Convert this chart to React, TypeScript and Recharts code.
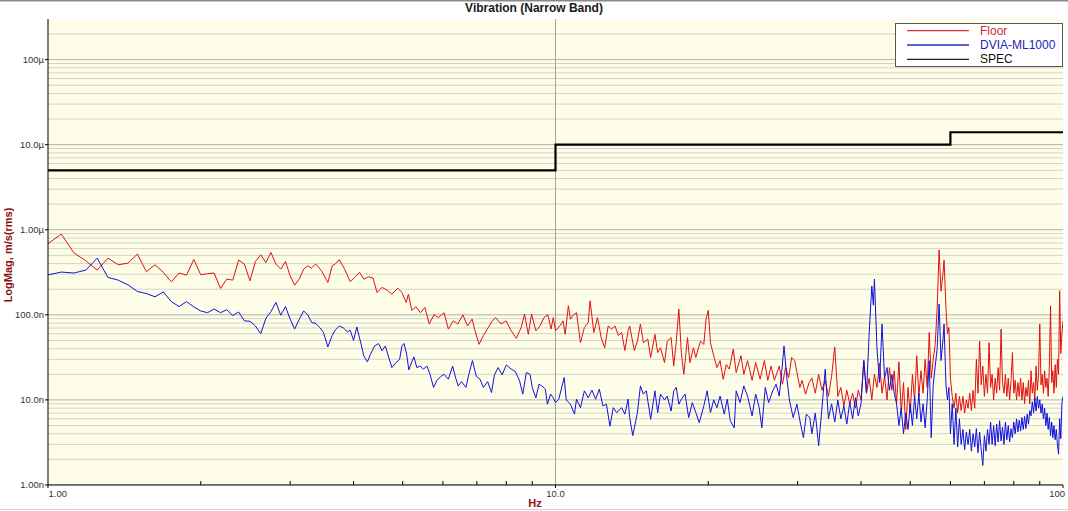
import React from 'react';
import { LineChart, Line, XAxis, YAxis, CartesianGrid, ReferenceLine, Legend } from 'recharts';

// Readings: [frequency Hz, magnitude in nm/s (rms)]
const floorReadings: [number, number][] = [
  [1, 684], [1.0625, 890], [1.125, 532], [1.1875, 432], [1.25, 336], [1.3125, 464], [1.375, 388], [1.4375, 405],
  [1.5, 518], [1.5625, 321], [1.625, 388], [1.6875, 316], [1.75, 244], [1.8125, 310], [1.875, 293], [1.9375, 448],
  [2, 295], [2.0625, 305], [2.125, 310], [2.1875, 204], [2.25, 263], [2.3125, 256], [2.375, 441], [2.4375, 395],
  [2.5, 251], [2.5625, 424], [2.625, 508], [2.6875, 412], [2.75, 541], [2.8125, 395], [2.875, 345], [2.9375, 424],
  [3, 287], [3.0625, 223], [3.125, 262], [3.19, 345], [3.25, 377], [3.3, 354], [3.37, 395], [3.46, 329],
  [3.56, 240], [3.63, 377], [3.68, 395], [3.75, 444], [3.84, 345], [3.94, 246], [4.02, 275], [4.11, 316],
  [4.19, 263], [4.28, 280], [4.37, 271], [4.45, 183], [4.55, 210], [4.66, 195], [4.76, 175], [4.89, 206],
  [4.98, 183], [5.08, 140], [5.13, 175], [5.21, 113], [5.31, 124], [5.42, 106], [5.53, 122], [5.64, 78],
  [5.76, 100], [5.88, 93], [6.03, 106], [6.15, 68], [6.29, 85], [6.42, 78], [6.57, 100], [6.71, 74],
  [6.85, 89], [6.94, 65], [7.07, 45], [7.21, 57], [7.34, 68], [7.51, 85], [7.62, 93], [7.81, 78],
  [7.99, 85], [8.18, 65], [8.37, 53], [8.56, 71], [8.69, 102], [8.84, 59], [8.97, 102], [9.15, 65],
  [9.32, 74], [9.49, 93], [9.66, 100], [9.8, 68], [9.9, 93], [10, 65], [10.2, 74], [10.35, 85],
  [10.45, 59], [10.6, 128], [10.7, 89], [10.85, 100], [11, 106], [11.2, 47], [11.4, 71], [11.6, 81],
  [11.7, 146], [11.9, 62], [12.1, 93], [12.3, 54], [12.5, 41], [12.7, 74], [12.9, 68], [13.1, 74],
  [13.3, 57], [13.5, 62], [13.7, 38], [13.9, 65], [14, 74], [14.3, 38], [14.5, 49], [14.7, 78],
  [14.9, 47], [15.2, 52], [15.4, 31.5], [15.7, 59], [15.9, 36], [16.1, 41], [16.4, 27.5], [16.6, 49],
  [16.9, 54], [17.1, 25], [17.3, 49], [17.5, 117], [17.7, 36], [17.9, 20], [18.2, 54], [18.4, 27.5],
  [18.7, 41], [18.9, 31.5], [19.3, 49], [19.6, 45], [19.8, 89], [20, 113], [20.2, 47], [20.5, 33],
  [20.8, 24], [21.1, 29], [21.4, 17.5], [21.7, 26], [22, 23], [22.4, 39.5], [22.7, 21], [23.2, 33],
  [23.5, 20], [23.9, 29], [24.4, 17], [24.8, 27.5], [25.3, 17.5], [25.8, 29], [26.2, 17], [26.6, 25],
  [27, 17], [27.6, 25], [28, 15.3], [28.4, 24], [28.8, 18.3], [29.2, 31.5], [29.6, 29], [30.3, 14],
  [30.6, 17], [31.1, 11.7], [31.6, 16], [32, 18], [32.5, 12], [33, 20], [33.5, 13], [34, 17],
  [34.5, 11], [35, 19], [35.5, 42], [36, 11], [36.5, 14], [37, 8.5], [37.5, 13], [38, 9],
  [38.5, 12], [39, 8], [39.5, 13], [40, 10], [40.5, 29], [41, 12], [41.5, 18], [42, 10],
  [42.5, 20], [43, 14], [43.5, 27], [44, 12], [44.5, 19], [45, 10], [45.5, 24], [46, 13],
  [46.5, 22], [47, 9], [47.5, 28], [48, 7], [48.5, 16], [49, 4.5], [49.5, 14], [50, 7],
  [50.5, 20], [51, 10], [51.5, 33], [52, 11], [52.5, 22], [53, 12], [53.5, 30], [54, 14],
  [54.5, 62], [55, 18], [55.5, 30], [56, 45], [56.5, 120], [57, 580], [57.5, 190], [58, 300],
  [58.3, 440], [58.8, 120], [59.2, 60], [59.6, 71], [60, 18], [60.5, 11], [61, 8], [61.5, 12],
  [62, 7], [62.5, 11], [63, 7.5], [63.5, 11], [64, 7], [64.5, 10], [65, 8], [65.5, 12],
  [66, 7.5], [66.5, 13], [67, 8], [67.5, 30], [68, 12], [68.5, 49], [69, 15], [69.5, 25],
  [70, 11], [70.5, 20], [71, 12], [71.5, 47], [72, 14], [72.5, 20], [73, 10], [73.5, 18],
  [74, 12], [74.5, 24], [75, 13], [75.5, 68], [76, 16], [76.5, 12], [77, 20], [77.5, 11],
  [78, 18], [78.5, 10], [79, 17], [79.5, 36], [80, 12], [80.5, 17], [81, 10], [81.5, 16],
  [82, 11], [82.5, 18], [83, 10], [83.5, 16], [84, 9], [84.5, 14], [85, 11], [85.5, 17],
  [86, 9], [86.5, 22], [87, 12], [87.5, 16], [88, 10], [88.5, 25], [89, 13], [89.5, 20],
  [90, 78], [90.5, 15], [91, 20], [91.5, 12], [92, 22], [92.5, 14], [93, 18], [93.5, 11],
  [94, 25], [94.5, 128], [95, 16], [95.5, 22], [96, 12], [96.5, 26], [97, 14], [97.5, 30],
  [98, 20], [98.5, 192], [99, 35], [99.5, 60], [100, 85],
];

const dviaReadings: [number, number][] = [
  [1, 295], [1.0625, 318], [1.125, 310], [1.1875, 336], [1.25, 464], [1.3125, 275], [1.375, 256], [1.4375, 225],
  [1.5, 188], [1.5625, 178], [1.625, 163], [1.6875, 186], [1.75, 143], [1.8125, 125], [1.875, 143], [1.9375, 124],
  [2, 111], [2.0625, 106], [2.125, 117], [2.1875, 106], [2.25, 115], [2.3125, 98], [2.375, 108], [2.4375, 85],
  [2.5, 84], [2.5625, 74], [2.625, 60], [2.6875, 91], [2.75, 109], [2.8125, 140], [2.875, 99], [2.9375, 125],
  [3, 89], [3.0625, 68], [3.125, 88], [3.19, 111], [3.25, 100], [3.31, 81], [3.37, 79], [3.44, 70],
  [3.49, 62], [3.56, 42], [3.63, 57], [3.68, 66], [3.75, 74], [3.82, 70], [3.89, 63], [3.94, 66],
  [4, 50], [4.06, 72], [4.14, 45], [4.19, 33], [4.26, 28], [4.32, 34.5], [4.4, 43], [4.48, 46],
  [4.55, 38], [4.62, 43], [4.69, 32], [4.76, 24], [4.85, 27.5], [4.93, 30], [4.98, 43], [5.03, 46],
  [5.09, 34.5], [5.14, 22.5], [5.21, 28], [5.26, 32], [5.33, 24], [5.41, 25], [5.49, 23], [5.58, 25],
  [5.66, 20], [5.75, 14], [5.84, 17], [5.95, 19], [6.03, 20], [6.15, 17.5], [6.27, 25], [6.36, 18],
  [6.43, 14.6], [6.53, 16.4], [6.66, 14], [6.75, 20], [6.86, 29], [6.98, 19], [7.1, 17.5], [7.21, 14],
  [7.35, 16.4], [7.48, 12.2], [7.58, 19.7], [7.71, 24], [7.85, 19.7], [8, 25.8], [8.18, 23], [8.33, 21.6],
  [8.49, 17], [8.62, 11.7], [8.76, 21], [8.91, 20], [9, 14], [9.15, 10.6], [9.28, 15.3], [9.4, 14.6],
  [9.55, 13.4], [9.64, 8.9], [9.78, 11.7], [9.9, 10.6], [10, 9.3], [10.15, 10.2], [10.4, 18.3], [10.5, 10],
  [10.7, 8.9], [10.9, 6.8], [11, 10.2], [11.2, 8.1], [11.4, 12.8], [11.6, 10.6], [11.8, 13], [12, 10.2],
  [12.2, 13.4], [12.4, 8.5], [12.6, 8.9], [12.8, 4.9], [13, 8.1], [13.2, 7.1], [13.5, 8.1], [13.7, 6.8],
  [13.9, 10.2], [14, 6.2], [14.2, 3.8], [14.5, 7.1], [14.7, 14.6], [14.9, 11.7], [15.1, 12.8], [15.4, 5.9],
  [15.7, 12.8], [15.9, 7.1], [16.1, 11.7], [16.4, 10], [16.6, 11.1], [16.9, 7.4], [17.1, 12.8], [17.3, 14],
  [17.5, 8.9], [17.7, 10.2], [18, 11.7], [18.3, 6.2], [18.6, 9.3], [18.9, 7.1], [19.2, 5.4], [19.6, 8.5],
  [19.9, 12.8], [20.2, 7.1], [20.5, 10], [20.8, 8.1], [21.1, 11.1], [21.5, 6.8], [21.8, 10.2], [22.1, 5.7],
  [22.5, 4.7], [22.7, 12.8], [23.1, 9.3], [23.5, 14.6], [23.9, 11.1], [24.4, 6.5], [24.8, 11.7], [25.2, 8.1],
  [25.5, 4.7], [25.9, 14], [26.3, 9.3], [26.8, 12.8], [27.2, 15.3], [27.6, 11.1], [27.9, 21], [28.2, 43],
  [28.6, 17], [28.9, 10], [29.4, 6.2], [29.9, 8.9], [30.4, 5.2], [30.8, 3.6], [31.2, 6.8], [31.7, 6.2],
  [32, 4], [32.5, 7], [33, 2.9], [33.5, 8], [34, 23], [34.5, 6], [35, 9], [35.5, 5.5],
  [36, 10], [36.5, 6], [37, 8.5], [37.5, 5.2], [38, 9.5], [38.5, 6], [39, 10.6], [39.5, 6.5],
  [40, 9], [40.5, 29], [41, 12], [41.5, 60], [42, 218], [42.3, 130], [42.5, 263], [43, 40],
  [43.5, 16], [44, 78], [44.5, 18], [45, 24], [45.5, 13], [46, 20], [46.5, 12], [47, 9],
  [47.5, 5], [48, 8], [48.5, 4], [49, 7], [49.5, 4.5], [50, 9], [50.5, 5], [51, 11],
  [51.5, 6], [52, 12], [52.5, 5.5], [53, 9], [53.5, 4.7], [54, 10], [54.5, 29], [55, 3.6],
  [55.5, 15], [56, 25], [56.5, 40], [57, 134], [57.5, 29], [58, 50], [58.3, 78], [58.8, 15],
  [59.2, 10], [59.6, 14], [60, 4], [60.5, 9], [61, 3], [61.5, 8], [62, 2.8], [62.5, 6],
  [63, 3], [63.5, 4.5], [64, 2.6], [64.5, 4.2], [65, 3], [65.5, 4.5], [66, 2.5], [66.5, 4],
  [67, 2.8], [67.5, 4.6], [68, 2.4], [68.5, 4.2], [69, 2.6], [69.5, 1.7], [70, 3.8], [70.5, 2.5],
  [71, 4.5], [71.5, 3], [72, 5.5], [72.5, 3], [73, 5], [73.5, 2.9], [74, 5.2], [74.5, 3.2],
  [75, 5.7], [75.5, 3.3], [76, 4.8], [76.5, 3], [77, 5.5], [77.5, 3.4], [78, 5], [78.5, 3.2],
  [79, 4.6], [79.5, 3.6], [80, 5.5], [80.5, 4], [81, 6], [81.5, 4.2], [82, 5.8], [82.5, 4.3],
  [83, 6.2], [83.5, 4.5], [84, 6.4], [84.5, 4.6], [85, 6.8], [85.5, 5.2], [86, 7.5], [86.5, 6.5],
  [87, 9.5], [87.5, 7], [88, 10.5], [88.5, 7.4], [89, 11], [89.5, 8], [90, 10], [90.5, 7],
  [91, 9], [91.5, 6], [92, 8], [92.5, 5], [93, 7], [93.5, 4.5], [94, 6.2], [94.5, 3.8],
  [95, 5.5], [95.5, 3.6], [96, 5], [96.5, 3.4], [97, 4.5], [97.5, 3], [98, 2.3], [98.5, 6],
  [99, 3.5], [99.5, 9], [100, 11],
];

const specReadings: [number, number][] = [
  [1, 5000], [10, 10000], [60, 14000], [100, 14000],
];

const yMajorTicks = [1, 10, 100, 1000, 10000, 100000];
const yTickLabels = ['1.00n', '10.0n', '100.0n', '1.00\u00b5', '10.0\u00b5', '100\u00b5'];
const xMajorTicks = [1, 10, 100];
const xTickLabels = ['1.00', '10.0', '100'];
const minorSteps = [2, 3, 4, 5, 6, 7, 8, 9];
const xDecades = [1, 10];
const Y_MAX = 300000;

const seriesInfo = [
  { name: 'Floor', line: '#d83030', text: '#d02a2a' },
  { name: 'DVIA-ML1000', line: '#2030c8', text: '#2525b5' },
  { name: 'SPEC', line: '#222222', text: '#111111' },
];

const toRows = (r: [number, number][]) => r.map(([f, v]) => ({ f, v }));
const floorData = toRows(floorReadings);
const dviaData = toRows(dviaReadings);
const specData = toRows(specReadings);

const yMinorGrid = yMajorTicks.flatMap((d) => minorSteps.map((m) => d * m)).filter((v) => v < Y_MAX);
const xMinorTicks = xDecades.flatMap((d) => minorSteps.map((m) => d * m));
const xAllTicks = [...xMajorTicks, ...xMinorTicks].sort((a, b) => a - b);

const FONT = '"Liberation Sans", Arial, Helvetica, sans-serif';

const XTick = (props: any) => {
  const { x, y, payload } = props;
  const v = payload.value;
  const idx = xMajorTicks.indexOf(v);
  if (idx < 0) {
    return <line x1={x} x2={x} y1={y} y2={y - 4} stroke="#000" strokeWidth={1} />;
  }
  const last = xMajorTicks.length - 1;
  const anchor = idx === 0 ? 'start' : idx === last ? 'end' : 'middle';
  const dx = idx === 0 ? 0.5 : idx === last ? 2 : 0;
  return (
    <g>
      <line x1={x} x2={x} y1={y} y2={y + 3} stroke="#000" strokeWidth={1} />
      <text x={x + dx} y={y + 12} textAnchor={anchor} fontSize={9.5} fill="#333" fontFamily={FONT}>
        {xTickLabels[idx]}
      </text>
    </g>
  );
};

const LegendBox = () => (
  <svg width={168} height={45} style={{ display: 'block' }}>
    <rect x={0.5} y={0.5} width={167} height={43} fill="#ffffff" stroke="#555" strokeWidth={1} />
    {seriesInfo.map((s, i) => {
      const ly = 7.7 + i * 14.3;
      return (
        <g key={s.name}>
          <line x1={12} x2={74} y1={ly} y2={ly} stroke={s.line} strokeWidth={1.3} />
          <text x={85} y={ly + 4} fontSize={12} fill={s.text} fontFamily={FONT}>
            {s.name}
          </text>
        </g>
      );
    })}
  </svg>
);

export default function App() {
  return (
    <div style={{ position: 'absolute', left: 0, top: 0, width: 1068, height: 511, background: '#fff', overflow: 'hidden' }}>
      <LineChart width={1068} height={511} margin={{ top: 19, right: 5, bottom: 0, left: 0 }}>
        <CartesianGrid horizontal={false} vertical={false} fill="#fefee8" stroke="none" />
        {yMinorGrid.map((v) => (
          <ReferenceLine key={'ym' + v} y={v} stroke="#d4d4c6" strokeWidth={1} ifOverflow="hidden" />
        ))}
        {yMajorTicks.map((v) => (
          <ReferenceLine key={'yM' + v} y={v} stroke="#b0b0a8" strokeWidth={1} ifOverflow="hidden" />
        ))}
        <ReferenceLine x={10} stroke="#a4a4a4" strokeWidth={1} ifOverflow="hidden" />
        <XAxis
          type="number"
          dataKey="f"
          scale="log"
          domain={[1, 100]}
          allowDataOverflow
          ticks={xAllTicks}
          interval={0}
          tickLine={false}
          tickSize={0}
          tickMargin={0}
          tick={<XTick />}
          height={26}
          axisLine={{ stroke: '#000', strokeWidth: 1 }}
        />
        <YAxis
          type="number"
          dataKey="v"
          scale="log"
          domain={[1, Y_MAX]}
          allowDataOverflow
          ticks={yMajorTicks}
          interval={0}
          width={48}
          tickSize={3}
          tickMargin={1}
          tickFormatter={(v: number) => yTickLabels[yMajorTicks.indexOf(v)] ?? ''}
          tick={{ fontSize: 9.5, fill: '#333', fontFamily: FONT }}
          tickLine={{ stroke: '#000' }}
          axisLine={{ stroke: '#000', strokeWidth: 1 }}
        />
        <Legend
          layout="horizontal"
          verticalAlign="middle"
          align="center"
          content={() => <LegendBox />}
          wrapperStyle={{ position: 'absolute', left: 895, top: 23, width: 168, height: 45 }}
        />
        <Line
          data={floorData}
          dataKey="v"
          name="Floor"
          type="linear"
          stroke="#e01010"
          strokeWidth={1}
          dot={false}
          activeDot={false}
          isAnimationActive={false}
        />
        <Line
          data={dviaData}
          dataKey="v"
          name="DVIA-ML1000"
          type="linear"
          stroke="#1010e0"
          strokeWidth={1}
          dot={false}
          activeDot={false}
          isAnimationActive={false}
        />
        <Line
          data={specData}
          dataKey="v"
          name="SPEC"
          type="stepAfter"
          stroke="#000"
          strokeWidth={2.2}
          dot={false}
          activeDot={false}
          isAnimationActive={false}
        />
      </LineChart>
      <svg width={1068} height={511} style={{ position: 'absolute', left: 0, top: 0, pointerEvents: 'none' }}>
        <line x1={0} x2={1068} y1={0.5} y2={0.5} stroke="#8a8a8a" strokeWidth={2} />
        <line x1={0} x2={1068} y1={509.5} y2={509.5} stroke="#cfcfcf" strokeWidth={1} />
        <text x={534} y={12} textAnchor="middle" fontSize={12} fontWeight="bold" fill="#1a1a1a" fontFamily={FONT}>
          Vibration (Narrow Band)
        </text>
        <text
          transform="translate(11.5,255) rotate(-90)"
          textAnchor="middle"
          fontSize={11}
          fontWeight="bold"
          fill="#8b1010"
          fontFamily={FONT}
        >
          LogMag, m/s(rms)
        </text>
        <text x={535} y={507} textAnchor="middle" fontSize={11} fontWeight="bold" fill="#8b1010" fontFamily={FONT}>
          Hz
        </text>
      </svg>
    </div>
  );
}
